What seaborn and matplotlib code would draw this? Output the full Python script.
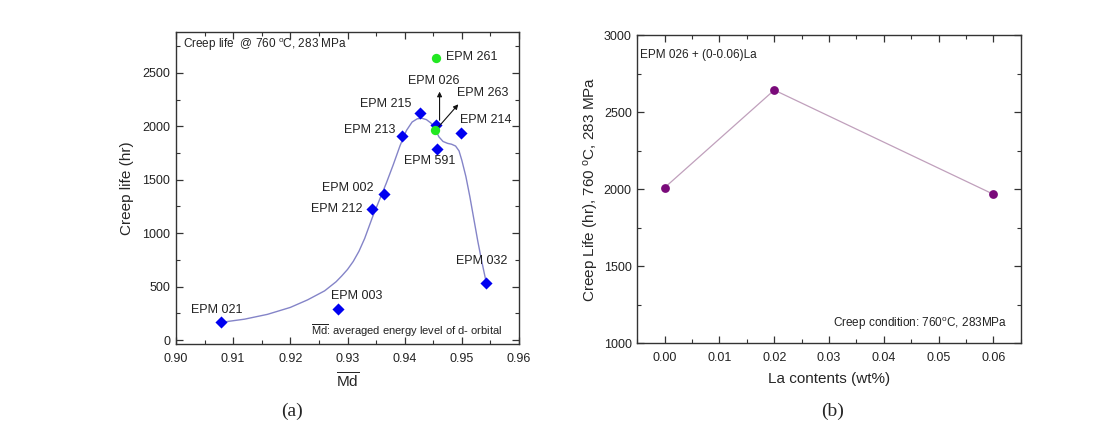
import matplotlib
matplotlib.use("Agg")
import matplotlib.pyplot as plt
import seaborn as sns
import pandas as pd
from matplotlib.ticker import MultipleLocator

# (a) creep life vs Md
blue_names = ["EPM 021", "EPM 003", "EPM 212", "EPM 002", "EPM 213",
              "EPM 215", "EPM 026", "EPM 591", "EPM 214", "EPM 032"]
blue_md = [0.9079, 0.9283, 0.9343, 0.9364, 0.9395,
           0.9427, 0.9455, 0.9456, 0.9499, 0.9543]
blue_life = [165, 294, 1229, 1365, 1912, 2124, 2015, 1791, 1937, 529]

green_names = ["EPM 261", "EPM 263"]
green_md = [0.9455, 0.9453]
green_life = [2640, 1965]

# fitted curve
curve_md = [0.9079, 0.912, 0.916, 0.920, 0.923, 0.926, 0.928, 0.929, 0.930,
            0.931, 0.932, 0.933, 0.9343, 0.9355, 0.9368, 0.938, 0.9392,
            0.9403, 0.9413, 0.9422, 0.9430, 0.9438, 0.9446, 0.9453, 0.9460,
            0.9467, 0.9475, 0.9482, 0.9489, 0.9495, 0.9500, 0.9507, 0.9514,
            0.9521, 0.9528, 0.9535, 0.9543]
curve_life = [165, 195, 240, 305, 375, 460, 545, 600, 660,
              735, 830, 950, 1140, 1300, 1470, 1640, 1820,
              1960, 2040, 2070, 2075, 2062, 2030, 1975, 1900,
              1858, 1840, 1832, 1815, 1770, 1680, 1530, 1340,
              1130, 920, 730, 529]

# (b) creep life vs La content
la_wt = [0.00, 0.02, 0.06]
la_life = [2010, 2643, 1967]

sns.set_theme(style="ticks")
plt.rcParams["font.family"] = ["Liberation Sans", "DejaVu Sans"]
plt.rcParams["mathtext.fontset"] = "custom"
plt.rcParams["mathtext.rm"] = "Liberation Sans"
plt.rcParams["mathtext.it"] = "Liberation Sans:italic"

fig = plt.figure(figsize=(10.99, 4.33), dpi=100)
ax1 = fig.add_axes([0.1601, 0.2049, 0.3122, 0.7219])
ax2 = fig.add_axes([0.5799, 0.2072, 0.3489, 0.7119])

blue_df = pd.DataFrame({"md": blue_md, "life": blue_life, "name": blue_names})
green_df = pd.DataFrame({"md": green_md, "life": green_life, "name": green_names})
curve_df = pd.DataFrame({"md": curve_md, "life": curve_life})

sns.lineplot(data=curve_df, x="md", y="life", ax=ax1, color="#8484c8",
             linewidth=1.0, sort=False, estimator=None)
sns.scatterplot(data=blue_df, x="md", y="life", ax=ax1, marker="D", s=38,
                color="#0000f0", edgecolor="#0000f0", linewidth=0, zorder=3)
sns.scatterplot(data=green_df, x="md", y="life", ax=ax1, marker="o", s=45,
                color="#22e822", edgecolor="#22e822", linewidth=0, zorder=4)

# label placement (x, y, ha)
label_pos = {
    "EPM 261": (0.9472, 2646, "left"),
    "EPM 026": (0.9450, 2428, "center"),
    "EPM 263": (0.9491, 2310, "left"),
    "EPM 215": (0.9412, 2211, "right"),
    "EPM 213": (0.9383, 1968, "right"),
    "EPM 214": (0.9497, 2055, "left"),
    "EPM 591": (0.9444, 1673, "center"),
    "EPM 002": (0.9345, 1418, "right"),
    "EPM 212": (0.9327, 1228, "right"),
    "EPM 032": (0.9534, 740, "center"),
    "EPM 003": (0.9272, 413, "left"),
    "EPM 021": (0.9026, 283, "left"),
}
for name, (lx, ly, ha) in label_pos.items():
    ax1.text(lx, ly, name, ha=ha, va="center", fontsize=9, color="#222222")

ax1.annotate("", xy=(0.9461, 2350), xytext=(0.9461, 2030),
             arrowprops=dict(arrowstyle="-|>", color="#111111", lw=0.8,
                             mutation_scale=7))
ax1.annotate("", xy=(0.9497, 2225), xytext=(0.9456, 1975),
             arrowprops=dict(arrowstyle="-|>", color="#111111", lw=0.8,
                             mutation_scale=7))

ax1.text(0.9012, 2765, r"Creep life  @ 760 $^{\mathrm{o}}$C, 283 MPa",
         ha="left", va="center", fontsize=8.5, color="#222222")
ax1.text(0.9237, 90, r"$\overline{\mathrm{Md}}$: averaged energy level of d- orbital",
         ha="left", va="center", fontsize=8, color="#222222")

ax1.set_xlim(0.90, 0.96)
ax1.set_ylim(-40, 2885)
ax1.xaxis.set_major_locator(MultipleLocator(0.01))
ax1.xaxis.set_minor_locator(MultipleLocator(0.005))
ax1.yaxis.set_major_locator(MultipleLocator(500))
ax1.yaxis.set_minor_locator(MultipleLocator(250))
ax1.set_xticks([0.90, 0.91, 0.92, 0.93, 0.94, 0.95, 0.96])
ax1.set_xticklabels(["0.90", "0.91", "0.92", "0.93", "0.94", "0.95", "0.96"])
ax1.set_xlabel(r"$\overline{\mathrm{Md}}$", fontsize=11, labelpad=5)
ax1.set_ylabel("Creep life (hr)", fontsize=11, labelpad=6)

sns.lineplot(x=la_wt, y=la_life, ax=ax2, color="#c0a0bc", linewidth=0.9)
sns.scatterplot(x=la_wt, y=la_life, ax=ax2, marker="o", s=40,
                color="#7a0a7a", edgecolor="#7a0a7a", linewidth=0, zorder=3)
ax2.text(-0.0045, 2870, "EPM 026 + (0-0.06)La", ha="left", va="center",
         fontsize=8.5, color="#222222")
ax2.text(0.0625, 1125, r"Creep condition: 760$^{\mathrm{o}}$C, 283MPa",
         ha="right", va="center", fontsize=8.5, color="#222222")
ax2.set_xlim(-0.005, 0.065)
ax2.set_ylim(1000, 3000)
ax2.xaxis.set_major_locator(MultipleLocator(0.01))
ax2.xaxis.set_minor_locator(MultipleLocator(0.005))
ax2.yaxis.set_major_locator(MultipleLocator(500))
ax2.yaxis.set_minor_locator(MultipleLocator(250))
ax2.set_xticks([0.00, 0.01, 0.02, 0.03, 0.04, 0.05, 0.06])
ax2.set_xticklabels(["0.00", "0.01", "0.02", "0.03", "0.04", "0.05", "0.06"])
ax2.set_xlabel("La contents (wt%)", fontsize=11, labelpad=6)
ax2.set_ylabel(r"Creep Life (hr), 760 $^{\mathrm{o}}$C, 283 MPa", fontsize=11,
               labelpad=2)

for ax in (ax1, ax2):
    for sp in ax.spines.values():
        sp.set_visible(True)
        sp.set_color("#333333")
        sp.set_linewidth(1.0)
    ax.tick_params(which="both", direction="in", top=True, right=True,
                   colors="#333333", labelcolor="#222222", labelsize=9)
    ax.tick_params(which="major", length=5, width=0.9)
    ax.tick_params(which="minor", length=3, width=0.8)
    ax.tick_params(axis="x", which="both", labeltop=False, pad=6)
    ax.tick_params(axis="y", which="both", labelright=False, pad=4)

fig.text(292 / 1099, 1 - 411 / 433, "(a)", ha="center", va="center",
         fontsize=14, family=["Liberation Serif", "DejaVu Serif"])
fig.text(833 / 1099, 1 - 411 / 433, "(b)", ha="center", va="center",
         fontsize=14, family=["Liberation Serif", "DejaVu Serif"])

fig.savefig("out.png", dpi=100)
plt.close(fig)
